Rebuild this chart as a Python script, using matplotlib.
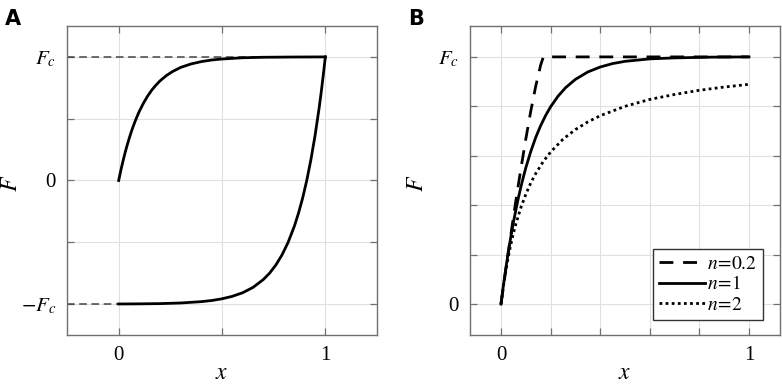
import matplotlib
matplotlib.use('Agg')
import matplotlib.pyplot as plt
import numpy as np

plt.rcParams['font.family'] = ['Liberation Serif', 'DejaVu Serif']
plt.rcParams['mathtext.fontset'] = 'stix'

# panel A: hysteresis loop (F in units of Fc)
loop_up_x = [0, 0.01, 0.02, 0.03, 0.04, 0.05, 0.06, 0.07, 0.08, 0.09, 0.1, 0.12, 0.14, 0.16,
             0.18, 0.2, 0.23, 0.26, 0.3, 0.35, 0.4, 0.45, 0.5, 0.6, 0.7, 0.85, 1.0]
loop_up_F = [0, 0.079, 0.151, 0.218, 0.28, 0.336, 0.389, 0.437, 0.481, 0.522, 0.56, 0.626,
             0.683, 0.731, 0.771, 0.806, 0.848, 0.881, 0.915, 0.943, 0.962, 0.975, 0.983,
             0.993, 0.997, 0.999, 1.0]
loop_down_x = [0, 0.1, 0.2, 0.3, 0.4, 0.45, 0.5, 0.55, 0.6, 0.65, 0.7, 0.73, 0.76, 0.79, 0.82,
               0.85, 0.87, 0.89, 0.91, 0.93, 0.95, 0.97, 0.98, 0.99, 1.0]
loop_down_F = [-0.999, -0.998, -0.996, -0.991, -0.98, -0.971, -0.957, -0.937, -0.908, -0.865,
               -0.801, -0.75, -0.685, -0.603, -0.5, -0.37, -0.265, -0.143, 0.0, 0.167, 0.361,
               0.587, 0.714, 0.852, 1.0]

# panel B: curves for different n
n02_x = [0, 0.02, 0.04, 0.06, 0.08, 0.1, 0.12, 0.14, 0.16, 0.171, 1.0]
n02_F = [0, 0.144, 0.283, 0.418, 0.546, 0.667, 0.78, 0.881, 0.967, 1.0, 1.0]
n1_x = [0, 0.01, 0.02, 0.03, 0.04, 0.05, 0.06, 0.07, 0.08, 0.09, 0.1, 0.12, 0.14, 0.16, 0.18,
        0.2, 0.23, 0.26, 0.3, 0.35, 0.4, 0.45, 0.5, 0.6, 0.7, 0.85, 1.0]
n1_F = [0, 0.077, 0.148, 0.213, 0.274, 0.33, 0.381, 0.429, 0.473, 0.513, 0.551, 0.617, 0.674,
        0.722, 0.763, 0.798, 0.841, 0.875, 0.909, 0.939, 0.959, 0.973, 0.982, 0.992, 0.996,
        0.999, 1.0]
n2_x = [0, 0.01, 0.02, 0.03, 0.04, 0.05, 0.06, 0.08, 0.1, 0.12, 0.14, 0.17, 0.2, 0.25, 0.3,
        0.35, 0.4, 0.5, 0.6, 0.7, 0.8, 0.9, 1.0]
n2_F = [0, 0.074, 0.138, 0.194, 0.242, 0.286, 0.324, 0.39, 0.444, 0.49, 0.528, 0.576, 0.615,
        0.667, 0.706, 0.737, 0.762, 0.8, 0.828, 0.848, 0.865, 0.878, 0.889]

legend_labels = [r'$n\!=\!0.2$', r'$n\!=\!1$', r'$n\!=\!2$']

fig = plt.figure(figsize=(7.82, 3.84), dpi=100)
axA = fig.add_axes([0.0857, 0.1276, 0.3964, 0.8047])
axB = fig.add_axes([0.601, 0.1276, 0.3964, 0.8047])


def style(ax, ylab_x):
    ax.grid(True, color='#e0e0e0', linewidth=0.8)
    ax.set_axisbelow(True)
    for s in ax.spines.values():
        s.set_color('#707070')
        s.set_linewidth(1.0)
    ax.tick_params(direction='in', length=5, width=0.9, color='#707070',
                   top=True, right=True, labelsize=15, pad=8)
    ax.set_xlabel(r'$x$', fontsize=17)
    ax.set_ylabel(r'$F$', fontsize=17)
    ax.xaxis.set_label_coords(0.5, -0.09)
    ax.yaxis.set_label_coords(ylab_x, 0.49)


# ---- A ----
axA.plot([-0.25, 1.0], [1, 1], color='#444444', lw=1.1, dashes=(5, 3))
axA.plot([-0.25, 0.0], [-1, -1], color='#444444', lw=1.1, dashes=(5, 3))
axA.plot(loop_up_x, loop_up_F, color='black', lw=2)
axA.plot(loop_down_x, loop_down_F, color='black', lw=2)
axA.set_xlim(-0.25, 1.25)
axA.set_ylim(-1.25, 1.25)
axA.set_xticks([0, 0.5, 1])
axA.set_xticklabels(['0', '', '1'])
axA.set_yticks([-1, -0.5, 0, 0.5, 1])
axA.set_yticklabels([r'$-F_c$', '', '0', '', r'$F_c$'])
style(axA, -0.145)

# ---- B ----
axB.plot(n02_x, n02_F, color='black', lw=2, dashes=(5, 3.5), label=legend_labels[0])
axB.plot(n1_x, n1_F, color='black', lw=2, label=legend_labels[1])
axB.plot(n2_x, n2_F, color='black', lw=2, dashes=(1, 1.2), label=legend_labels[2])
axB.set_xlim(-0.125, 1.125)
axB.set_ylim(-0.125, 1.125)
axB.set_xticks(np.arange(0, 1.01, 0.2))
axB.set_xticklabels(['0', '', '', '', '', '1'])
axB.set_yticks(np.arange(0, 1.01, 0.2))
axB.set_yticklabels(['0', '', '', '', '', r'$F_c$'])
style(axB, -0.135)
leg = axB.legend(loc='lower right', bbox_to_anchor=(0.945, 0.049), fontsize=14,
                 fancybox=False, framealpha=1, edgecolor='#333333',
                 handlelength=2.4, handletextpad=0.1, borderpad=0.3,
                 labelspacing=0.15, borderaxespad=0)
leg.get_frame().set_linewidth(1.0)

fig.text(0.006, 0.935, 'A', fontsize=15, fontweight='bold', family='DejaVu Sans')
fig.text(0.522, 0.935, 'B', fontsize=15, fontweight='bold', family='DejaVu Sans')

fig.savefig('out.png', dpi=100)
